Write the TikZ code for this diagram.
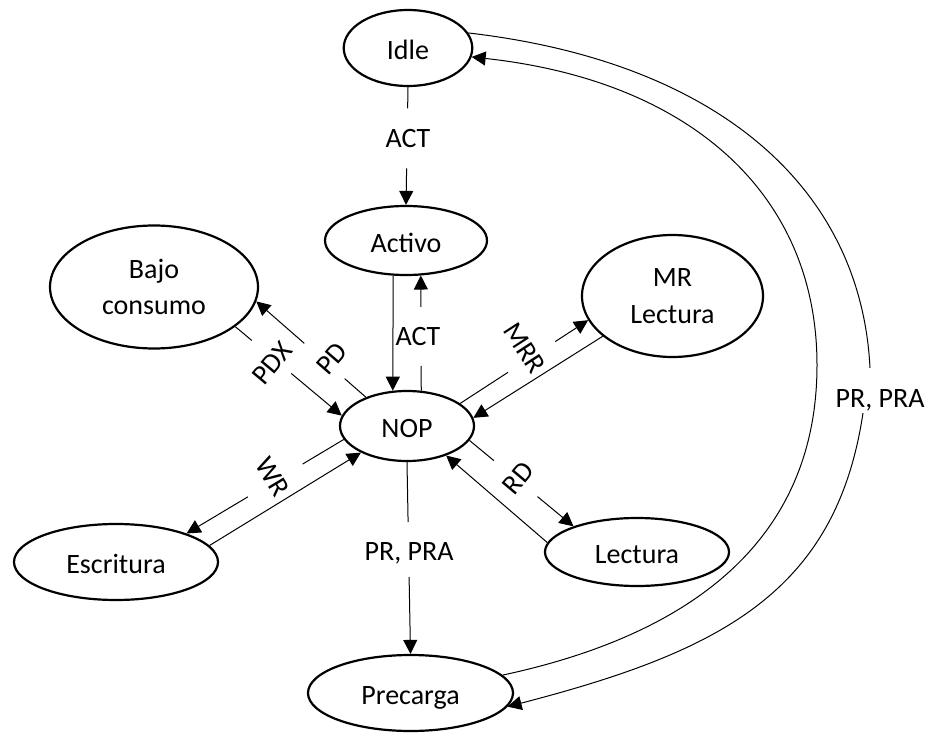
\documentclass[tikz,border=0pt]{standalone}
\usepackage{fontspec}
\setmainfont{Carlito}
\usetikzlibrary{arrows.meta,shapes.geometric,calc}
\newcommand{\stfont}{\fontsize{28}{36.5}\selectfont}
\begin{document}
\begin{tikzpicture}[x=1pt,y=-1pt,
  st/.style={ellipse, draw, line width=2.2pt, inner sep=0pt, font=\stfont, text height=23.5pt, text depth=0pt},
  sttwo/.style={ellipse, draw, line width=2.2pt, inner sep=0pt, font=\stfont, align=center},
  conn/.style={line width=1pt},
  arr/.style={conn, -{Triangle[length=14pt,width=14pt]}},
  lbl/.style={font=\stfont, inner sep=0pt}]
\useasboundingbox (0,0) rectangle (929,733);
% states
\node[st, minimum width=128.6pt, minimum height=76pt] (idle) at (408,48) {Idle};
\node[st, minimum width=162pt, minimum height=69pt] (activo) at (406,240.5) {Activo};
\node[sttwo, minimum width=208pt, minimum height=123pt] (bajo) at (154,287) {Bajo\\consumo};
\node[sttwo, minimum width=181pt, minimum height=122pt] (mr) at (672.5,296) {MR\\Lectura};
\node[st, minimum width=134pt, minimum height=70pt] (nop) at (407,426) {NOP};
\node[st, minimum width=204pt, minimum height=76pt] (escr) at (116,562) {Escritura};
\node[st, minimum width=184pt, minimum height=68pt] (lect) at (637,552) {Lectura};
\node[st, minimum width=205pt, minimum height=76pt] (prec) at (410.5,693) {Precarga};
% Idle -> Activo
\path (idle.south) -- coordinate[pos=0.18] (ia1) coordinate[pos=0.69] (ia2) (activo.north);
\draw[conn] (idle.south) -- (ia1);
\draw[arr] (ia2) -- (activo.north);
\node[lbl, anchor=base] (tact1) at (408,147) {ACT};
% Activo -> NOP
\draw[arr] (activo.250) -- (nop.112);
% NOP -> Activo
\path (nop.68) -- coordinate[pos=0.215] (na1) coordinate[pos=0.727] (na2) (activo.293);
\draw[conn] (nop.68) -- (na1);
\draw[arr] (na2) -- (activo.293);
\node[lbl, anchor=base] (tact2) at (418,345) {ACT};
% NOP -> Bajo consumo (PD)
\path (nop.145) -- coordinate[pos=0.194] (pd1) coordinate[pos=0.562] (pd2) (bajo.352);
\draw[conn] (nop.145) -- (pd1);
\draw[arr] (pd2) -- (bajo.352);
\node[lbl, rotate=49] (tpd) at (332,359) {PD};
% Bajo consumo -> NOP (PDX)
\path (bajo.334) -- coordinate[pos=0.155] (px1) coordinate[pos=0.526] (px2) (nop.171);
\draw[conn] (bajo.334) -- (px1);
\draw[arr] (px2) -- (nop.171);
\node[lbl, rotate=50] (tpdx) at (272,363) {PDX};
% NOP -> Escritura (WR)
\path (nop.192) -- coordinate[pos=0.262] (wr1) coordinate[pos=0.61] (wr2) (escr.22);
\draw[conn] (nop.192) -- (wr1);
\draw[arr] (wr2) -- (escr.22);
\node[lbl, rotate=-59] (twr) at (273,477) {WR};
% Escritura -> NOP
\draw[arr] (escr.10) -- (nop.210);
% NOP -> MR Lectura (MRR)
\path (nop.23) -- coordinate[pos=0.374] (mr1) coordinate[pos=0.743] (mr2) (mr.196);
\draw[conn] (nop.23) -- (mr1);
\draw[arr] (mr2) -- (mr.196);
\node[lbl, rotate=-57] (tmrr) at (525,348) {MRR};
% MR Lectura -> NOP
\draw[arr] (mr.210) -- (nop.7);
% NOP -> Lectura (RD)
\path (nop.347) -- coordinate[pos=0.235] (rd1) coordinate[pos=0.654] (rd2) (lect.158);
\draw[conn] (nop.347) -- (rd1);
\draw[arr] (rd2) -- (lect.158);
\node[lbl, rotate=50] (trd) at (518,478) {RD};
% Lectura -> NOP
\draw[arr] (lect.174) -- (nop.323);
% NOP -> Precarga
\path (nop.south) -- coordinate[pos=0.3125] (pp1) coordinate[pos=0.599] (pp2) (prec.north);
\draw[conn] (nop.south) -- (pp1);
\draw[arr] (pp2) -- (prec.north);
\node[lbl, anchor=base] (tpr1) at (409,560) {PR, PRA};
% Idle -> Precarga (outer arc)
\coordinate (g1) at (870,368);
\coordinate (g2) at (863,413);
\draw[conn] (idle.14) .. controls +(250,29) and +(-9,-180) .. (g1);
\draw[arr] (g2) .. controls +(-27,180) and +(212,-55) .. (prec.352);
\node[lbl, anchor=base] (tpr2) at (880,407) {PR, PRA};
% Precarga -> Idle (inner arc)
\coordinate (r2) at (817,365);
\draw[arr] (prec.11) .. controls +(196,-42) and +(0,170) .. (r2) .. controls +(0,-170) and +(220,24) .. (idle.352);
\end{tikzpicture}
\end{document}
